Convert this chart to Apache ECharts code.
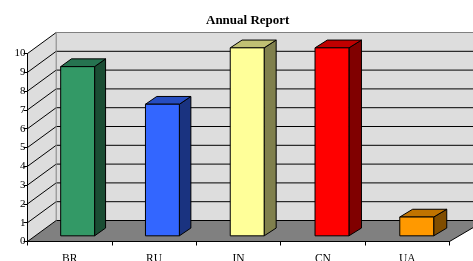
<!DOCTYPE html>
<html>
<head>
<meta charset="utf-8">
<script src="https://cdn.jsdelivr.net/npm/echarts@6/dist/echarts.min.js"></script>
<style>
html,body{margin:0;padding:0;background:#fff;}
#chart{width:473px;height:261px;}
</style>
</head>
<body>
<div id="chart"></div>
<script>
const categories = ['BR', 'RU', 'IN', 'CN', 'UA'];
const values = [9, 7, 10, 10, 1];
const yTicks = [0, 1, 2, 3, 4, 5, 6, 7, 8, 9, 10];
const titleText = 'Annual Report';

const barFront = ['#339966', '#3366FF', '#FFFF99', '#FF0000', '#FF9900'];
const barTop   = ['#267350', '#264DC0', '#C0C073', '#C00000', '#C07300'];
const barSide  = ['#1A4D33', '#1A3380', '#80804D', '#800000', '#804D00'];

// oblique "3D" depth projection (style constants)
const DX = 28.7, DY = -21, XS = 0.0166;
const T1 = 0.27, T2 = 0.64, BAR_RATIO = 0.4;
const SERIF = '"Liberation Serif", "Times New Roman", serif';

function proj(x, y, t, L) {
  return [x + t * (DX + (x - L) * XS), y + t * DY];
}

const chart = echarts.init(document.getElementById('chart'), null, {renderer: 'canvas'});

const option = {
  animation: false,
  backgroundColor: '#ffffff',
  title: {
    text: titleText,
    left: 201,
    top: 9,
    textStyle: {fontFamily: SERIF, fontSize: 13, fontWeight: 'bold', color: '#000'}
  },
  grid: {left: 27.5, top: 53.5, width: 422, height: 188, containLabel: false, outerBoundsMode: 'none'},
  xAxis: {
    type: 'category',
    data: categories,
    z: 3,
    axisLine: {show: true, lineStyle: {color: '#000', width: 1}},
    axisTick: {show: true, length: 4, lineStyle: {color: '#000'}},
    axisLabel: {fontFamily: SERIF, fontSize: 11.5, color: '#000', margin: 11},
    splitLine: {show: false}
  },
  yAxis: {
    type: 'value',
    min: 0, max: 10, interval: 1,
    z: 3,
    axisLine: {show: true, lineStyle: {color: '#000', width: 1}},
    axisTick: {show: true, length: 4, lineStyle: {color: '#000'}},
    axisLabel: {fontFamily: SERIF, fontSize: 11, color: '#000', margin: 2},
    splitLine: {show: false}
  },
  series: [
    {
      type: 'custom',
      name: 'walls',
      z: 1,
      silent: true,
      clip: false,
      data: [[0, 0]],
      renderItem: function (params, api) {
        const cs = params.coordSys;
        const L = cs.x, R = cs.x + cs.width;
        const y0 = api.coord([0, yTicks[0]])[1];
        const yMax = api.coord([0, yTicks[yTicks.length - 1]])[1];
        const children = [];
        children.push({type: 'polygon', shape: {points: [[L, yMax], proj(L, yMax, 1, L), proj(L, y0, 1, L), [L, y0]]},
          style: {fill: '#DDDDDD'}});
        children.push({type: 'polygon', shape: {points: [proj(L, yMax, 1, L), proj(R, yMax, 1, L), proj(R, y0, 1, L), proj(L, y0, 1, L)]},
          style: {fill: '#DDDDDD'}});
        children.push({type: 'polygon', shape: {points: [[L, y0], [R, y0], proj(R, y0, 1, L), proj(L, y0, 1, L)]},
          style: {fill: '#808080'}});
        yTicks.forEach(function (v, i) {
          const yv = api.coord([0, v])[1];
          const last = i === yTicks.length - 1;
          const a = proj(L, yv, 1, L), b = proj(R, yv, 1, L);
          children.push({type: 'line', shape: {x1: L, y1: yv, x2: a[0], y2: a[1]}, style: {stroke: '#000', lineWidth: 1}});
          children.push({type: 'line', shape: {x1: a[0], y1: a[1], x2: b[0], y2: b[1]}, style: {stroke: last ? '#808080' : '#000', lineWidth: 1}});
        });
        const c1 = proj(L, yMax, 1, L), c2 = proj(L, y0, 1, L);
        children.push({type: 'line', shape: {x1: c1[0], y1: c1[1], x2: c2[0], y2: c2[1]}, style: {stroke: '#808080', lineWidth: 1}});
        const f = proj(R, y0, 1, L);
        children.push({type: 'line', shape: {x1: R, y1: y0, x2: f[0], y2: f[1]}, style: {stroke: '#000', lineWidth: 1}});
        return {type: 'group', children: children};
      }
    },
    {
      type: 'custom',
      name: 'bars',
      z: 2,
      clip: false,
      data: values.map(function (v, i) { return [i, v]; }),
      renderItem: function (params, api) {
        const cs = params.coordSys;
        const L = cs.x;
        const i = api.value(0);
        const top = api.coord([i, api.value(1)]);
        const bot = api.coord([i, 0]);
        const w = api.size([1, 0])[0] * BAR_RATIO;
        const xl = top[0] - w / 2, xr = top[0] + w / 2;
        const fTL = proj(xl, top[1], T1, L), fTR = proj(xr, top[1], T1, L);
        const fBL = proj(xl, bot[1], T1, L), fBR = proj(xr, bot[1], T1, L);
        const bTL = proj(xl, top[1], T2, L), bTR = proj(xr, top[1], T2, L);
        const bBR = proj(xr, bot[1], T2, L);
        const idx = params.dataIndex;
        const stroke = {stroke: '#000', lineWidth: 1, lineJoin: 'round'};
        return {type: 'group', children: [
          {type: 'polygon', shape: {points: [fTR, bTR, bBR, fBR]}, style: Object.assign({fill: barSide[idx]}, stroke)},
          {type: 'polygon', shape: {points: [fTL, fTR, bTR, bTL]}, style: Object.assign({fill: barTop[idx]}, stroke)},
          {type: 'polygon', shape: {points: [fTL, fTR, fBR, fBL]}, style: Object.assign({fill: barFront[idx]}, stroke)}
        ]};
      }
    }
  ]
};
chart.setOption(option);
</script>
</body>
</html>
